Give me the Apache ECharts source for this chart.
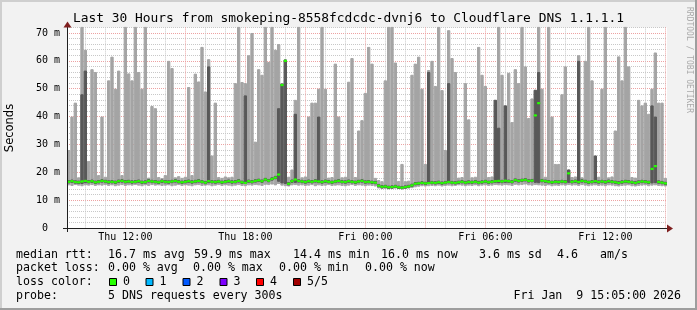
<!DOCTYPE html>
<html><head><meta charset="utf-8">
<script src="https://cdn.jsdelivr.net/npm/echarts@6/dist/echarts.min.js"></script>
<style>html,body{margin:0;padding:0;background:#f2f2f2}#c{width:697px;height:310px}</style>
</head><body><div id="c"></div>
<script>
// ---- data (10-minute bins, Thu 09:05 .. Fri 15:05, values in ms) ----
const hiPing = [
28,40,45,18.2,80,64,24,57,56,19,
40,18.4,53,61.5,50,56.5,19,80,55.5,53,
80,56,50,80,18.1,43.8,43,18.3,17.9,19,
60,57.4,18.2,18.6,18.0,18.4,50.6,19,55.4,52.6,
65,49,60.6,26,45,18.3,18.0,18.5,18.2,18.4,
52,80,52.4,52,62,70,31,57,55,80,
59.6,80,64,66,52,60.5,18.4,21,46,80,
18.2,18.5,40,45,45,50,80,50,18.1,18.3,
59,40,18.2,18.4,52.5,61,18.3,35,38.7,48.5,
65,59,18,17.2,16.8,53,80,80,59.4,16.9,
23,16.8,17.0,55,59,61.5,50,23,56.7,60,
51,80,49.5,28,71,61,56,18.1,18.3,52,
39,18.2,18.4,65,55,51,18.3,18.5,46,80,
55,44,55.7,38,57,52,80,58,39.5,46.5,
49.6,80,50,18.4,80,40,23,23,48,58,
21,18.3,18.5,62,18.2,60,80,53,26,18.4,
50,80,18.2,18.5,35,61.6,53,80,58,18.3,
18.1,46,44,45,41,50,63,45,45,18.0
];
const loPing = [
15.3,15.1,15.4,15.2,15.0,15.3,15.2,15.4,15.1,15.3,
15.2,15.4,15.1,15.3,15.0,15.2,15.4,15.1,15.3,15.2,
15.4,15.2,15.0,15.3,15.1,15.4,15.2,15.3,15.1,15.2,
15.3,15.0,15.2,15.4,15.1,15.3,15.2,15.0,15.3,15.4,
15.1,15.2,15.3,15.0,15.2,15.4,15.1,15.3,15.2,15.0,
15.2,15.4,15.1,15.0,15.3,15.2,15.4,15.3,15.1,15.5,
15.4,15.6,15.3,15.8,15.2,15.0,14.9,15.3,15.4,15.2,
15.3,15.1,15.2,15.4,15.0,15.3,15.1,15.2,15.4,15.1,
15.2,15.3,15.1,15.0,15.2,15.4,15.1,15.3,15.2,15.0,
15.2,15.1,14.9,14.2,14.0,14.1,13.9,14.0,14.2,14.0,
13.9,14.1,14.2,14.3,14.6,14.8,15.0,14.9,15.0,15.1,
15.0,15.2,14.9,15.1,15.2,15.0,15.1,15.3,15.2,15.0,
15.2,15.1,15.3,15.0,15.2,15.3,15.1,15.2,15.4,15.3,
15.2,15.4,15.3,15.1,15.5,15.3,15.4,15.6,15.3,15.2,
15.4,15.3,15.2,15.1,15.3,15.0,15.2,15.1,15.3,15.2,
15.4,15.2,15.3,15.1,15.4,15.2,15.0,15.2,15.3,15.1,
15.2,15.0,15.3,15.2,15.0,14.9,15.1,15.2,15.3,15.0,
14.9,15.1,15.2,15.3,15.0,15.2,15.3,15.1,15.0,14.9
];
const medianRtt = [
16.6,16.8,16.5,16.4,16.7,16.9,16.6,16.8,16.4,16.6,
16.9,16.7,16.5,16.6,16.4,16.8,16.9,16.6,16.7,16.5,
16.6,16.8,16.4,16.5,16.9,16.7,16.6,16.4,16.8,16.6,
16.5,16.7,16.9,16.6,16.4,16.6,16.8,16.5,16.7,16.9,
16.6,16.3,16.8,16.6,16.5,16.7,16.4,16.6,16.8,16.5,
16.6,16.9,16.4,16.2,16.8,16.6,16.9,17.1,16.8,17.4,
17.0,17.6,18.1,19.2,51.3,60.0,15.9,16.8,17.4,16.9,
16.7,16.5,16.8,16.6,16.9,16.7,16.5,16.8,16.6,16.4,
16.7,16.9,16.6,16.5,16.8,16.6,16.4,16.7,16.9,16.5,
16.6,16.4,16.3,15.2,14.8,14.9,14.6,14.7,14.9,14.6,
14.5,14.7,14.9,15.3,15.9,16.0,16.2,16.0,16.1,16.3,
16.2,16.4,16.1,16.3,16.5,16.3,16.2,16.4,16.6,16.3,
16.5,16.4,16.6,16.3,16.5,16.7,16.4,16.6,16.8,16.9,
16.7,17.0,16.8,16.6,17.2,16.9,17.1,17.3,16.9,17.0,
40.4,44.8,17.0,16.8,16.6,16.4,16.6,16.5,16.7,16.6,
19.6,16.6,16.8,16.5,16.9,16.7,16.4,16.6,16.8,16.5,
16.7,16.5,16.8,16.6,16.4,16.2,16.5,16.7,16.6,16.4,
16.2,16.5,16.7,16.6,16.4,21.2,22.2,16.5,16.3,16.0
];
// [bin, top of dark smoke (ms)]
const darkSpikes = [[4,48],[5,56.5],[42,58],[53,47.6],[63,43],[64,51.8],[65,60.5],[68,41],[75,40],
  [108,56],[114,52],[128,46],[129,36],[131,44],[140,49.6],[141,56],[150,21],[153,60],[158,26],[175,44],[176,40]];
const xTickLabels = ['Thu 12:00','Thu 18:00','Fri 00:00','Fri 06:00','Fri 12:00'];
const titleText = 'Last 30 Hours from smokeping-8558fcdcdc-dvnj6 to Cloudflare DNS 1.1.1.1';
const rowMedian = ['median rtt:','16.7 ms avg','59.9 ms max','14.4 ms min','16.0 ms now','3.6 ms sd','4.6','am/s'];
const rowLoss = ['packet loss:','0.00 % avg','0.00 % max','0.00 % min','0.00 % now'];
const lossLabels = ['0','1','2','3','4','5/5'];
const lossColors = ['#26ff00','#00b8ff','#0059ff','#7e00ff','#ff0000','#a10000'];
const rowProbe = ['probe:','5 DNS requests every 300s','Fri Jan  9 15:05:00 2026'];

// ---- layout ----
const MONO = '"DejaVu Sans Mono", monospace';
const L = 67, R = 30, T = 27.4, B = 82;
const minorC = '#c8c8c8', majorC = '#eda2a2';
const binIdx = hiPing.map((_, i) => String(i));
const slots = Array.from({length: 361}, (_, k) => String(k));

const darkMap = {};
darkSpikes.forEach(([i, v]) => { darkMap[i] = v; });
const lightVal = hiPing.map((h, i) => h - loPing[i]);
const dBase = medianRtt.map((m, i) => darkMap[i] != null ? loPing[i] + 0.8 : m - 0.6);
const dVal = medianRtt.map((m, i) => darkMap[i] != null ? darkMap[i] - dBase[i] : 1.2);
const gBase = medianRtt.map(m => m - 0.4);
const gVal = medianRtt.map(() => 0.8);

const clear = 'rgba(0,0,0,0)';
function barS(stack, data, color, border) {
  return {type: 'bar', stack, data, xAxisIndex: 0, yAxisIndex: 0, barWidth: '100%', barGap: '-100%',
    barCategoryGap: '0%', silent: true,
    itemStyle: {color, borderColor: border ? color : clear, borderWidth: border ? 1 : 0}};
}

const g = [];
// outer 3D border
g.push({type:'rect', shape:{x:0,y:0,width:697,height:2}, style:{fill:'#cfcfcf'}, z:100});
g.push({type:'rect', shape:{x:0,y:0,width:2,height:310}, style:{fill:'#cfcfcf'}, z:100});
g.push({type:'rect', shape:{x:0,y:308,width:697,height:2}, style:{fill:'#9e9e9e'}, z:101});
g.push({type:'rect', shape:{x:695,y:0,width:2,height:310}, style:{fill:'#9e9e9e'}, z:101});
// axes + arrows
const y0 = 310 - B;
g.push({type:'line', shape:{x1:L-4,y1:y0+0.5,x2:697-R+4,y2:y0+0.5}, style:{stroke:'#1f1f1f',lineWidth:1}, z:50});
g.push({type:'line', shape:{x1:L+0.5,y1:y0+4,x2:L+0.5,y2:T-4}, style:{stroke:'#1f1f1f',lineWidth:1}, z:50});
g.push({type:'polygon', shape:{points:[[697-R,y0-3.5],[697-R,y0+4.5],[697-R+6,y0+0.5]]}, style:{fill:'#7f1f1f'}, z:51});
g.push({type:'polygon', shape:{points:[[L-3.5,T],[L+4.5,T],[L+0.5,T-6]]}, style:{fill:'#7f1f1f'}, z:51});
// title
g.push({type:'text', x:348.5, y:19, style:{text:titleText, fontFamily:MONO, fontSize:12.9, fill:'#000', align:'center', verticalAlign:'middle'}, z:60});
// watermark
g.push({type:'text', x:689, y:60, rotation:-Math.PI/2, style:{text:'RRDTOOL / TOBI OETIKER', fontFamily:MONO, fontSize:8, fill:'#aaaaaa', align:'center', verticalAlign:'middle'}, z:60});
// y axis name
g.push({type:'text', x:10, y:128, rotation:Math.PI/2, style:{text:'Seconds', fontFamily:'"DejaVu Sans", sans-serif', fontSize:11.5, fill:'#000', align:'center', verticalAlign:'middle'}, z:60});
// legend rows
const FS = 11.6;
function txt(x, y, s, align) {
  g.push({type:'text', x, y, style:{text:s, fontFamily:MONO, fontSize:FS, fill:'#000', align: align || 'left', verticalAlign:'middle'}, z:60});
}
const r1x = [16,108,194,293,381,479,557,600];
rowMedian.forEach((s, i) => txt(r1x[i], 254.6, s));
const r2x = [16,108,193,279,365];
rowLoss.forEach((s, i) => txt(r2x[i], 268.3, s));
txt(16, 282.3, 'loss color:');
const boxX = [109,145.5,182.5,219.5,256,293];
lossLabels.forEach((s, i) => {
  g.push({type:'rect', shape:{x:boxX[i]+0.5,y:278.5,width:7,height:7}, style:{fill:lossColors[i], stroke:'#000', lineWidth:1}, z:60});
  txt(boxX[i] + 14, 282.3, s);
});
txt(16, 296, rowProbe[0]);
txt(108, 296, rowProbe[1]);
txt(681, 296, rowProbe[2], 'right');

const option = {
  animation: false,
  backgroundColor: '#f2f2f2',
  grid: {left: L, right: R, top: T, bottom: B, show: true, backgroundColor: '#ffffff', borderWidth: 0},
  xAxis: [
    {type:'category', gridIndex:0, data: binIdx, show:false, position:'top', boundaryGap:true},
    {type:'category', gridIndex:0, data: slots, position:'bottom', boundaryGap:false,
      axisLine:{show:false}, axisTick:{show:false},
      axisLabel:{interval:(i) => i >= 35 && (i - 35) % 72 === 0,
        formatter:(v) => { const k = (+v - 35) / 72; return xTickLabels[k] || ''; },
        margin:4, fontFamily:MONO, fontSize:10, color:'#000'},
      splitLine:{show:true, interval:(i) => i >= 11 && (i - 11) % 12 === 0,
        lineStyle:{color:[minorC, minorC, majorC], type:[1,1], width:1}}
    }
  ],
  yAxis: [{type:'value', gridIndex:0, min:0, max:72, interval:2,
    axisLine:{show:false}, axisTick:{show:false},
    axisLabel:{formatter:(v) => v % 10 === 0 ? (v === 0 ? '0  ' : v + ' m') : '', margin:7,
      fontFamily:MONO, fontSize:10, color:'#000'},
    splitLine:{show:true, lineStyle:{color:[majorC, minorC, minorC, minorC, minorC], type:[1,1], width:1}}
  }],
  series: [
    barS('smoke', loPing, clear, false),
    barS('smoke', lightVal, '#a4a4a4', true),
    barS('dark', dBase, clear, false),
    barS('dark', dVal, '#585858', true),
    barS('med', gBase, clear, false),
    barS('med', gVal, '#26ff00', true)
  ],
  graphic: g
};
const chart = echarts.init(document.getElementById('c'), null, {width: 697, height: 310});
chart.setOption(option);
</script></body></html>
